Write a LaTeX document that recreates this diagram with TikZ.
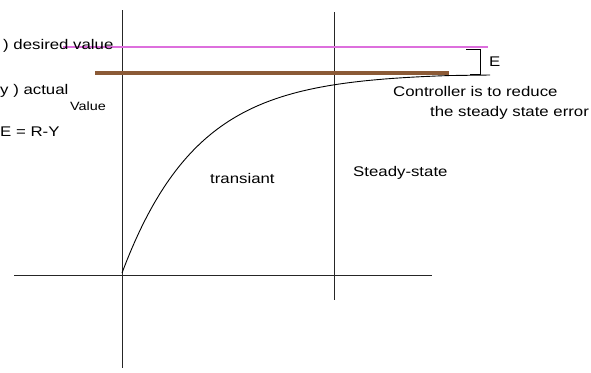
\documentclass[tikz,border=0pt]{standalone}
\usepackage{fontspec}
\usepackage{graphicx}
\setmainfont{Liberation Sans}
\definecolor{pinkline}{HTML}{DD6FDD}
\definecolor{brownline}{HTML}{8B5A36}
\newcommand{\hw}[1]{\scalebox{1.2}[1]{#1}}
\tikzset{
  axis/.style={line width=1pt, black!85},
  hand/.style={inner sep=0pt, anchor=west, font=\fontsize{14}{16}\selectfont},
}
\begin{document}
\begin{tikzpicture}[x=1pt,y=-1pt]
\useasboundingbox (0,0) rectangle (591,372);
% axes
\coordinate (vtop) at (122,10);
\coordinate (vbot) at (122,368);
\coordinate (hl) at (14,275);
\coordinate (hr) at (432,275);
\coordinate (stop) at (334,12);
\coordinate (sbot) at (334,300);
\draw[axis] (vtop) -- (vbot);
\draw[axis] (hl) -- (hr);
\draw[axis] (stop) -- (sbot);
% desired and actual
\coordinate (p1) at (63,47);
\coordinate (p2) at (488,47);
\coordinate (b1) at (95,73);
\coordinate (b2) at (449,73);
\draw[pinkline, line width=1.3pt] (p1) -- (p2);
\draw[brownline, line width=3.5pt] (b1) -- (b2);
% response curve
\draw[line width=0.9pt] plot[domain=122:449, samples=120, smooth] ({\x},{273-200*(1-exp(-(\x-122)/75))}) -- (490,75);
% bracket
\coordinate (k1) at (466,49);
\coordinate (k2) at (480,49);
\coordinate (k3) at (480,74);
\coordinate (k4) at (470,74);
\draw[line width=0.8pt] (k1) -- (k2) -- (k3) -- (k4);
% texts
\node[hand] (desired) at (3,46) {\hw{)\ desired value}};
\node[hand] (actual) at (0,91) {\hw{y\ )\ actual}};
\node[hand] (value) at (70,106) {\fontsize{12}{14}\selectfont\hw{Value}};
\node[hand] (eqn) at (0,132) {\hw{E = R-Y}};
\node[hand] (E) at (489,62) {\hw{E}};
\node[hand] (ctrl) at (393,91) {\hw{Controller is to reduce}};
\node[hand] (ctrl2) at (430,113) {\hw{the steady state error}};
\node[hand] (trans) at (210,178) {\hw{transiant}};
\node[hand] (steady) at (353,173) {\hw{Steady-state}};
\end{tikzpicture}
\end{document}
